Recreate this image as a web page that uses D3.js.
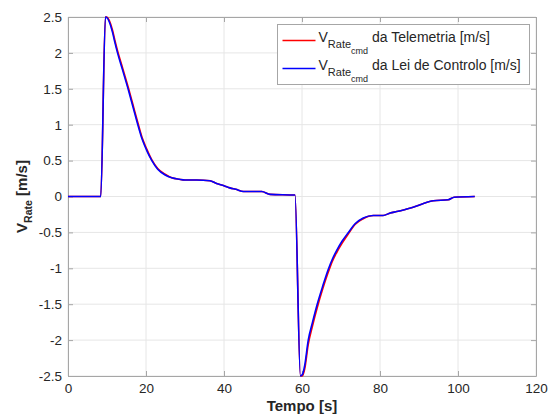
<!DOCTYPE html>
<html>
<head>
	<meta charset='utf-8'>
	<title>VRate</title>
	<style>
		body { margin: 0; background: #fff; }
		svg { font-family: 'Liberation Sans', Arial, sans-serif; }
		.grid line { stroke: #e6e6e6; stroke-width: 1; }
		.tick text { fill: #262626; font-size: 13.5px; }
		.axis line, .axis path { stroke: #a6a6a6; }
		.serie { fill: none; stroke-width: 1.6px; }
	</style>
</head>
<body>
<script src='https://d3js.org/d3.v7.min.js'></script>
<script>
	'use strict';

	// tempo [s]
	const time = [0, 8.4, 9.6, 10.0, 10.6, 11.4, 12.0, 12.7, 14.0, 15.5,
		16.7, 17.9, 19.0, 20.2, 21.5, 23.0, 24.9, 26.6, 28.5, 30,
		33, 36.4, 38.1, 40, 41.5, 43, 45, 49.7, 51.8, 58.2,
		59.6, 60.1, 60.7, 61.6, 62.7, 63.9, 65.3, 66.7, 67.8, 68.9,
		70.3, 71.9, 73.6, 75.7, 78.3, 80.8, 82.6, 84.3, 86.5, 88.5,
		91, 93.7, 97.5, 99, 104.3];

	// VRate_cmd da Telemetria [m/s]
	const telemetria = [0, 0, 2.5, 2.5, 2.45, 2.32, 2.18, 2.03, 1.79, 1.51,
		1.27, 1.03, 0.82, 0.66, 0.51, 0.39, 0.31, 0.26, 0.24, 0.23,
		0.23, 0.22, 0.18, 0.15, 0.12, 0.1, 0.07, 0.07, 0.03, 0.02,
		-2.5, -2.5, -2.4, -2.06, -1.8, -1.55, -1.29, -1.06, -0.9, -0.78,
		-0.65, -0.52, -0.39, -0.31, -0.265, -0.265, -0.23, -0.21, -0.18, -0.15,
		-0.1, -0.06, -0.045, -0.01, 0];

	// VRate_cmd da Lei de Controlo [m/s]
	const leiControlo = [0, 0, 2.5, 2.49, 2.43, 2.29, 2.15, 2.0, 1.76, 1.48,
		1.24, 1.0, 0.8, 0.64, 0.5, 0.38, 0.3, 0.26, 0.24, 0.23,
		0.23, 0.22, 0.18, 0.15, 0.12, 0.1, 0.07, 0.07, 0.03, 0.02,
		-2.5, -2.48, -2.35, -2.0, -1.75, -1.5, -1.25, -1.02, -0.87, -0.75,
		-0.62, -0.5, -0.38, -0.3, -0.265, -0.265, -0.23, -0.21, -0.18, -0.15,
		-0.1, -0.06, -0.045, -0.01, 0];

	const xTicks = [0, 20, 40, 60, 80, 100, 120];
	const yTicks = [-2.5, -2, -1.5, -1, -0.5, 0, 0.5, 1, 1.5, 2, 2.5];

	const margin = {top: 17, right: 14, bottom: 38, left: 68};
	const width = 550 - margin.left - margin.right;
	const height = 414 - margin.top - margin.bottom;

	const xScale = d3.scaleLinear().domain([0, 120]).range([0, width]);
	const yScale = d3.scaleLinear().domain([-2.5, 2.5]).range([height, 0]);

	const svg = d3.select('body').append('svg')
		.attr('width', 550)
		.attr('height', 414)
		.append('g')
		.attr('transform', 'translate(' + margin.left + ',' + margin.top + ')');

	// grelha
	svg.append('g').attr('class', 'grid')
		.selectAll('line').data(xTicks).join('line')
		.attr('x1', d => xScale(d)).attr('x2', d => xScale(d))
		.attr('y1', 0).attr('y2', height);
	svg.append('g').attr('class', 'grid')
		.selectAll('line').data(yTicks).join('line')
		.attr('x1', 0).attr('x2', width)
		.attr('y1', d => yScale(d)).attr('y2', d => yScale(d));

	// eixos (caixa completa, ticks para dentro)
	const fmt = d => String(d);
	svg.append('g')
		.attr('class', 'axis')
		.attr('transform', 'translate(0,' + height + ')')
		.call(d3.axisBottom(xScale).tickValues(xTicks).tickFormat(fmt)
			.tickSizeInner(-5).tickSizeOuter(0).tickPadding(7));
	svg.append('g')
		.attr('class', 'axis')
		.call(d3.axisTop(xScale).tickValues(xTicks).tickSizeInner(-5).tickSizeOuter(0).tickFormat(''));
	svg.append('g')
		.attr('class', 'axis')
		.call(d3.axisLeft(yScale).tickValues(yTicks).tickFormat(fmt)
			.tickSizeInner(-5).tickSizeOuter(0).tickPadding(6));
	svg.append('g')
		.attr('class', 'axis')
		.attr('transform', 'translate(' + width + ',0)')
		.call(d3.axisRight(yScale).tickValues(yTicks).tickSizeInner(-5).tickSizeOuter(0).tickFormat(''));

	const line = d3.line()
		.x(d => xScale(d[0]))
		.y(d => yScale(d[1]))
		.curve(d3.curveMonotoneX);

	svg.append('path')
		.datum(d3.zip(time, telemetria))
		.attr('class', 'serie')
		.attr('stroke', '#ff0000')
		.attr('d', line);

	svg.append('path')
		.datum(d3.zip(time, leiControlo))
		.attr('class', 'serie')
		.attr('stroke', '#0000ff')
		.attr('d', line);

	// titulos dos eixos
	svg.append('text')
		.attr('x', width / 2)
		.attr('y', height + 35)
		.attr('text-anchor', 'middle')
		.attr('font-weight', 'bold')
		.attr('font-size', '15px')
		.attr('fill', '#262626')
		.text('Tempo [s]');

	const yLabel = svg.append('text')
		.attr('transform', 'translate(' + (27 - margin.left) + ',' + height / 2 + ') rotate(-90)')
		.attr('text-anchor', 'middle')
		.attr('font-weight', 'bold')
		.attr('fill', '#262626');
	yLabel.append('tspan').attr('font-size', '15px').text('V');
	yLabel.append('tspan').attr('font-size', '10.5px').attr('dy', 5).text('Rate');
	yLabel.append('tspan').attr('font-size', '15px').attr('dy', -5).text(' [m/s]');

	// legenda
	const legendItems = [
		{label: ' da Telemetria [m/s]', color: '#ff0000'},
		{label: ' da Lei de Controlo [m/s]', color: '#0000ff'}
	];
	const legend = svg.append('g')
		.attr('transform', 'translate(' + (277.5 - margin.left) + ',' + (24.5 - margin.top) + ')');
	legend.append('rect')
		.attr('width', 252).attr('height', 60)
		.attr('fill', '#fff').attr('stroke', '#a6a6a6');
	const item = legend.selectAll('g.item').data(legendItems).join('g')
		.attr('transform', (d, i) => 'translate(0,' + (16 + i * 28) + ')');
	item.append('line')
		.attr('x1', 5).attr('x2', 38)
		.attr('stroke', d => d.color).attr('stroke-width', 1.6);
	const label = item.append('text')
		.attr('x', 41).attr('y', 1)
		.attr('fill', '#262626');
	label.append('tspan').attr('font-size', '14px').text('V');
	label.append('tspan').attr('font-size', '11px').attr('dy', 6).text('Rate');
	label.append('tspan').attr('font-size', '9px').attr('dy', 6).text('cmd');
	label.append('tspan').attr('font-size', '14px').attr('dy', -12).text(d => d.label);
</script>
</body>
</html>
